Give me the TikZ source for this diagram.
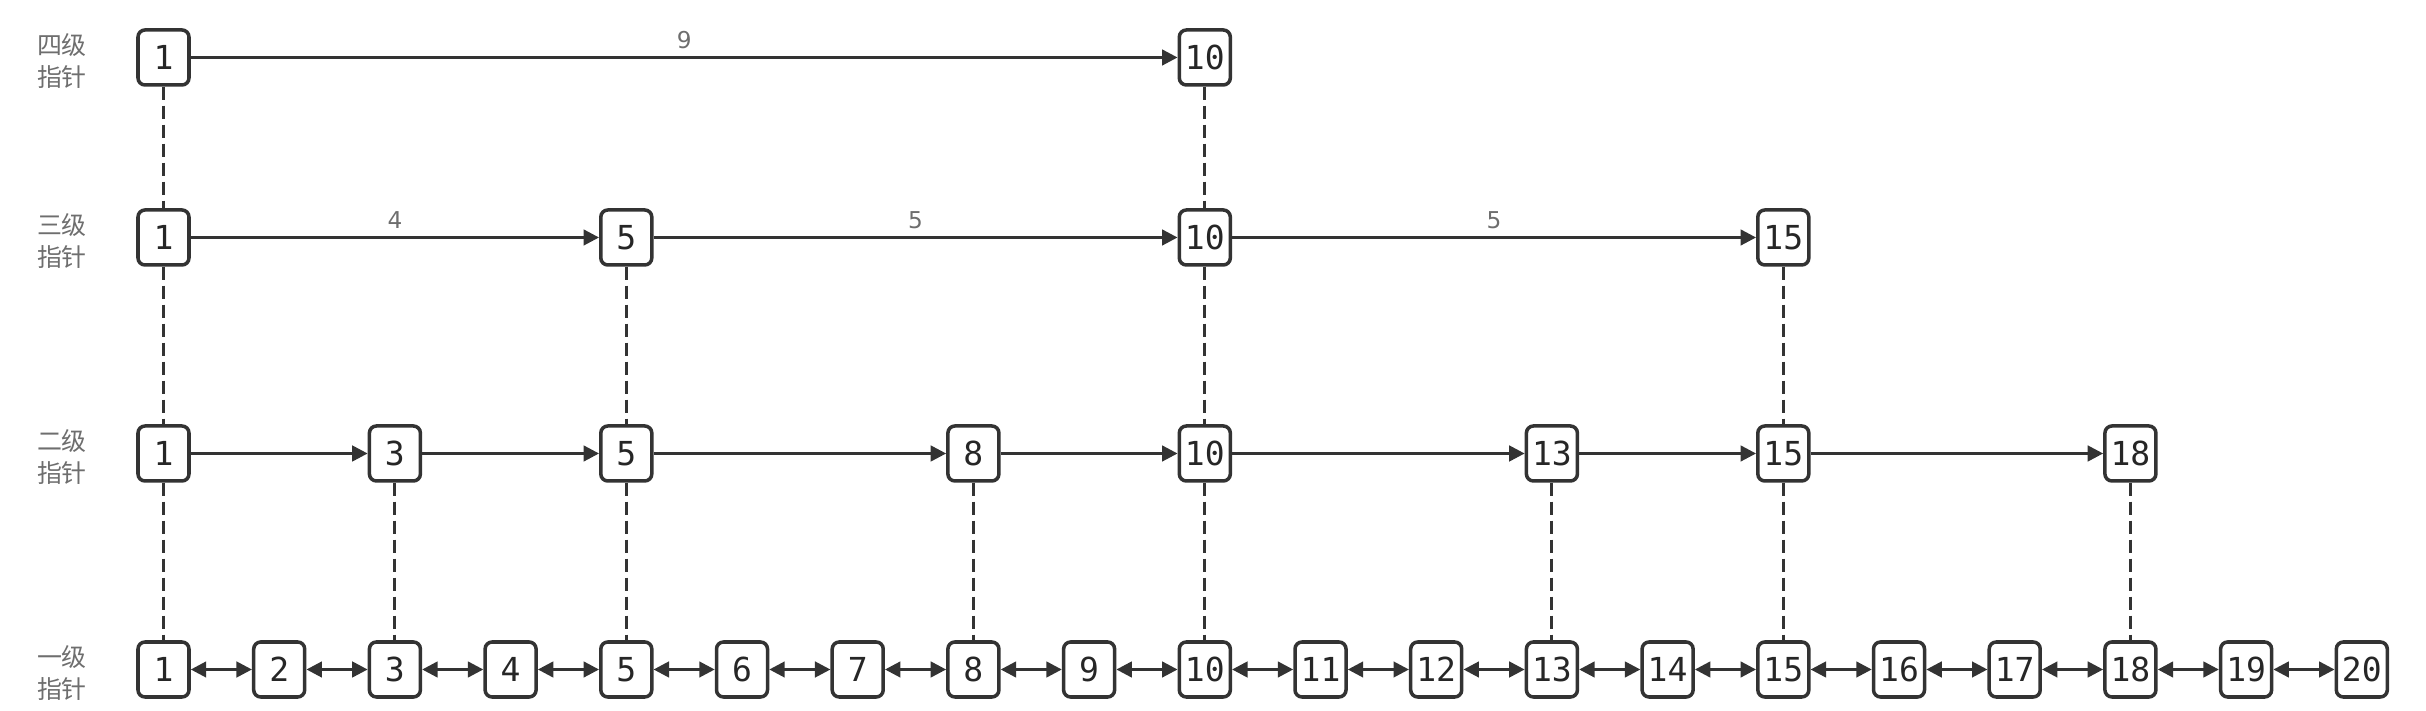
\documentclass[tikz,border=0pt]{standalone}
\usepackage{fontspec}
\usepackage{tikz}
\usepackage{xcolor}
\usetikzlibrary{arrows.meta}
\setsansfont{DejaVu Sans}
\setmonofont{DejaVu Sans Mono}
\newfontfamily\cjk{Noto Sans CJK SC}
\definecolor{inkgray}{HTML}{333333}
\definecolor{labelgray}{HTML}{6E6E6E}

\begin{document}
\begin{tikzpicture}[
    elem/.style={
        draw=inkgray,
        line width=1pt,
        rounded corners=2pt,
        fill=white,
        minimum width=0.51cm,
        minimum height=0.55cm,
        inner xsep=0.05cm,
        inner ysep=0pt,
        text=black!85,
        font=\ttfamily\fontsize{9.4}{11}\selectfont
    },
    levelname/.style={
        align=center,
        text=labelgray,
        font=\cjk\fontsize{7.1}{9.1}\selectfont
    },
    hop/.style={draw=inkgray, line width=0.85pt, -{Triangle[length=4.4pt,width=4.4pt]}},
    link/.style={draw=inkgray, line width=0.85pt, {Triangle[length=4.4pt,width=4.4pt]}-{Triangle[length=4.4pt,width=4.4pt]}},
    down/.style={draw=inkgray, line width=0.85pt, dash pattern=on 3.8pt off 1.6pt},
    span/.style={above, inner sep=1pt, yshift=1pt, text=labelgray,
        font=\sffamily\fontsize{6.6}{7}\selectfont}
]
    \useasboundingbox (0,0) rectangle (24.26,7.11);

    % level names
    \node[levelname] (nfour) at (0.62,6.50) {四级\\指针};
    \node[levelname] (nthree) at (0.62,4.70) {三级\\指针};
    \node[levelname] (ntwo) at (0.62,2.54) {二级\\指针};
    \node[levelname] (none) at (0.62,0.38) {一级\\指针};

    % level 4
    \node[elem] (d1) at (1.635,6.535) {1};
    \node[elem] (d10) at (12.048,6.535) {10};

    % level 3
    \node[elem] (c1) at (1.635,4.735) {1};
    \node[elem] (c5) at (6.263,4.735) {5};
    \node[elem] (c10) at (12.048,4.735) {10};
    \node[elem] (c15) at (17.833,4.735) {15};

    % level 2
    \node[elem] (b1) at (1.635,2.575) {1};
    \node[elem] (b3) at (3.949,2.575) {3};
    \node[elem] (b5) at (6.263,2.575) {5};
    \node[elem] (b8) at (9.734,2.575) {8};
    \node[elem] (b10) at (12.048,2.575) {10};
    \node[elem] (b13) at (15.519,2.575) {13};
    \node[elem] (b15) at (17.833,2.575) {15};
    \node[elem] (b18) at (21.304,2.575) {18};

    % level 1
    \node[elem] (a1) at (1.635,0.415) {1};
    \node[elem] (a2) at (2.792,0.415) {2};
    \node[elem] (a3) at (3.949,0.415) {3};
    \node[elem] (a4) at (5.106,0.415) {4};
    \node[elem] (a5) at (6.263,0.415) {5};
    \node[elem] (a6) at (7.420,0.415) {6};
    \node[elem] (a7) at (8.577,0.415) {7};
    \node[elem] (a8) at (9.734,0.415) {8};
    \node[elem] (a9) at (10.891,0.415) {9};
    \node[elem] (a10) at (12.048,0.415) {10};
    \node[elem] (a11) at (13.205,0.415) {11};
    \node[elem] (a12) at (14.362,0.415) {12};
    \node[elem] (a13) at (15.519,0.415) {13};
    \node[elem] (a14) at (16.676,0.415) {14};
    \node[elem] (a15) at (17.833,0.415) {15};
    \node[elem] (a16) at (18.990,0.415) {16};
    \node[elem] (a17) at (20.147,0.415) {17};
    \node[elem] (a18) at (21.304,0.415) {18};
    \node[elem] (a19) at (22.461,0.415) {19};
    \node[elem] (a20) at (23.618,0.415) {20};

    % forward pointers
    \draw[hop] (d1) -- node[span] {9} (d10);
    \draw[hop] (c1) -- node[span] {4} (c5);
    \draw[hop] (c5) -- node[span] {5} (c10);
    \draw[hop] (c10) -- node[span] {5} (c15);
    \draw[hop] (b1) -- (b3);
    \draw[hop] (b3) -- (b5);
    \draw[hop] (b5) -- (b8);
    \draw[hop] (b8) -- (b10);
    \draw[hop] (b10) -- (b13);
    \draw[hop] (b13) -- (b15);
    \draw[hop] (b15) -- (b18);
    \draw[link] (a1) -- (a2);
    \draw[link] (a2) -- (a3);
    \draw[link] (a3) -- (a4);
    \draw[link] (a4) -- (a5);
    \draw[link] (a5) -- (a6);
    \draw[link] (a6) -- (a7);
    \draw[link] (a7) -- (a8);
    \draw[link] (a8) -- (a9);
    \draw[link] (a9) -- (a10);
    \draw[link] (a10) -- (a11);
    \draw[link] (a11) -- (a12);
    \draw[link] (a12) -- (a13);
    \draw[link] (a13) -- (a14);
    \draw[link] (a14) -- (a15);
    \draw[link] (a15) -- (a16);
    \draw[link] (a16) -- (a17);
    \draw[link] (a17) -- (a18);
    \draw[link] (a18) -- (a19);
    \draw[link] (a19) -- (a20);

    % down pointers
    \draw[down] (d1) -- (c1);
    \draw[down] (d10) -- (c10);
    \draw[down] (c1) -- (b1);
    \draw[down] (c5) -- (b5);
    \draw[down] (c10) -- (b10);
    \draw[down] (c15) -- (b15);
    \draw[down] (b1) -- (a1);
    \draw[down] (b3) -- (a3);
    \draw[down] (b5) -- (a5);
    \draw[down] (b8) -- (a8);
    \draw[down] (b10) -- (a10);
    \draw[down] (b13) -- (a13);
    \draw[down] (b15) -- (a15);
    \draw[down] (b18) -- (a18);
\end{tikzpicture}
\end{document}
